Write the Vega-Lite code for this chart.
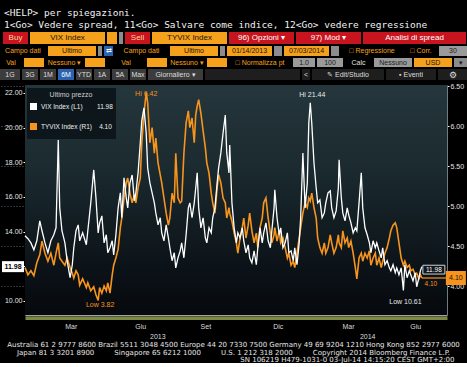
{
"$schema":"https://vega.github.io/schema/vega-lite/v6.json",
"background":"#000000",
"padding":{"top":8,"left":0,"right":0,"bottom":0},
"spacing":2,
"resolve":{"scale":{"color":"independent"},"legend":{"color":"independent"}},
"title":{"text":"\u00a0\u00a0<HELP> per spiegazioni.","subtitle":"1<Go> Vedere spread, 11<Go> Salvare come indice, 12<Go> vedere regressione","anchor":"start","frame":"bounds","font":"DejaVu Sans Mono","fontSize":9.5,"fontWeight":"normal","color":"#f2f2f2","subtitleFont":"DejaVu Sans Mono","subtitleFontSize":9.5,"subtitleColor":"#f2f2f2","subtitlePadding":2,"offset":3,"dx":4},
"config":{"view":{"stroke":null},"text":{"font":"Liberation Sans","fontSize":7,"color":"#ffffff"},"axis":{"labelFont":"Liberation Sans"},"legend":{"labelFont":"Liberation Sans","titleFont":"Liberation Sans"}},
"datasets":{"s":[
{"d":"2013-01-12","a":13.76,"b":4.23},{"d":"2013-01-16","a":13.59,"b":4.14},{"d":"2013-01-20","a":13.35,"b":4.19},{"d":"2013-01-24","a":12.95,"b":4.13},{"d":"2013-01-28","a":13.47,"b":4.29},{"d":"2013-02-01","a":14.62,"b":4.39},{"d":"2013-02-04","a":14.05,"b":4.56},{"d":"2013-02-08","a":13.35,"b":4.41},{"d":"2013-02-12","a":12.78,"b":4.31},{"d":"2013-02-16","a":13.47,"b":4.41},{"d":"2013-02-20","a":13.82,"b":4.26},{"d":"2013-02-23","a":14.22,"b":4.41},{"d":"2013-02-26","a":19.29,"b":4.54},{"d":"2013-02-28","a":15.37,"b":4.35},{"d":"2013-03-03","a":14.05,"b":4.31},{"d":"2013-03-07","a":13.35,"b":4.26},{"d":"2013-03-10","a":12.32,"b":4.35},{"d":"2013-03-14","a":11.34,"b":4.23},{"d":"2013-03-17","a":12.09,"b":4.16},{"d":"2013-03-19","a":13.07,"b":4.10},{"d":"2013-03-22","a":14.05,"b":4.19},{"d":"2013-03-25","a":14.39,"b":4.14},{"d":"2013-03-27","a":13.47,"b":4.01},{"d":"2013-03-31","a":13.93,"b":4.09},{"d":"2013-04-05","a":13.24,"b":3.98},{"d":"2013-04-07","a":14.05,"b":4.04},{"d":"2013-04-11","a":15.66,"b":3.94},{"d":"2013-04-15","a":17.56,"b":3.99},{"d":"2013-04-18","a":15.95,"b":3.89},{"d":"2013-04-21","a":13.93,"b":3.82},{"d":"2013-04-23","a":14.51,"b":3.98},{"d":"2013-04-26","a":14.91,"b":3.91},{"d":"2013-04-29","a":13.35,"b":4.00},{"d":"2013-05-02","a":13.82,"b":3.94},{"d":"2013-05-04","a":12.78,"b":4.04},{"d":"2013-05-07","a":13.07,"b":3.91},{"d":"2013-05-10","a":13.47,"b":4.14},{"d":"2013-05-12","a":12.66,"b":4.26},{"d":"2013-05-15","a":13.82,"b":4.35},{"d":"2013-05-18","a":15.37,"b":4.46},{"d":"2013-05-21","a":16.24,"b":4.73},{"d":"2013-05-23","a":14.80,"b":4.85},{"d":"2013-05-26","a":17.10,"b":5.10},{"d":"2013-05-29","a":15.95,"b":5.29},{"d":"2013-05-31","a":15.37,"b":5.35},{"d":"2013-06-03","a":16.81,"b":5.16},{"d":"2013-06-06","a":17.27,"b":5.04},{"d":"2013-06-09","a":15.78,"b":5.14},{"d":"2013-06-11","a":16.24,"b":5.04},{"d":"2013-06-14","a":17.39,"b":5.23},{"d":"2013-06-17","a":19.12,"b":5.35},{"d":"2013-06-19","a":20.39,"b":5.79},{"d":"2013-06-22","a":21.14,"b":6.16},{"d":"2013-06-25","a":19.69,"b":6.42},{"d":"2013-06-27","a":17.68,"b":6.29},{"d":"2013-06-30","a":16.81,"b":5.79},{"d":"2013-07-03","a":16.24,"b":5.98},{"d":"2013-07-06","a":15.66,"b":5.66},{"d":"2013-07-08","a":15.08,"b":5.85},{"d":"2013-07-11","a":14.39,"b":5.54},{"d":"2013-07-14","a":14.80,"b":5.39},{"d":"2013-07-16","a":13.93,"b":5.29},{"d":"2013-07-19","a":13.47,"b":5.10},{"d":"2013-07-22","a":14.39,"b":4.91},{"d":"2013-07-25","a":13.64,"b":4.76},{"d":"2013-07-27","a":13.07,"b":4.85},{"d":"2013-07-30","a":12.32,"b":5.16},{"d":"2013-08-02","a":12.78,"b":5.04},{"d":"2013-08-04","a":11.91,"b":5.66},{"d":"2013-08-07","a":12.49,"b":5.10},{"d":"2013-08-10","a":12.89,"b":5.04},{"d":"2013-08-12","a":13.35,"b":5.06},{"d":"2013-08-15","a":12.49,"b":5.66},{"d":"2013-08-18","a":13.82,"b":6.04},{"d":"2013-08-21","a":15.37,"b":6.19},{"d":"2013-08-23","a":15.66,"b":5.98},{"d":"2013-08-26","a":14.80,"b":6.10},{"d":"2013-08-29","a":15.66,"b":5.79},{"d":"2013-08-31","a":16.52,"b":6.14},{"d":"2013-09-02","a":17.39,"b":6.25},{"d":"2013-09-04","a":15.37,"b":6.33},{"d":"2013-09-07","a":14.22,"b":6.16},{"d":"2013-09-10","a":14.80,"b":5.94},{"d":"2013-09-13","a":13.64,"b":5.73},{"d":"2013-09-15","a":13.35,"b":5.54},{"d":"2013-09-18","a":14.22,"b":5.41},{"d":"2013-09-21","a":13.93,"b":5.16},{"d":"2013-09-23","a":14.80,"b":5.04},{"d":"2013-09-26","a":15.37,"b":4.91},{"d":"2013-09-29","a":16.81,"b":5.23},{"d":"2013-10-01","a":17.68,"b":5.39},{"d":"2013-10-04","a":18.54,"b":5.29},{"d":"2013-10-07","a":19.69,"b":5.10},{"d":"2013-10-10","a":20.73,"b":5.04},{"d":"2013-10-12","a":18.54,"b":4.85},{"d":"2013-10-15","a":17.39,"b":4.98},{"d":"2013-10-16","a":19.00,"b":4.91},{"d":"2013-10-19","a":15.66,"b":4.81},{"d":"2013-10-22","a":14.22,"b":4.66},{"d":"2013-10-25","a":13.35,"b":4.54},{"d":"2013-10-27","a":13.93,"b":4.41},{"d":"2013-10-30","a":13.64,"b":4.60},{"d":"2013-11-02","a":14.22,"b":4.73},{"d":"2013-11-04","a":13.47,"b":4.85},{"d":"2013-11-07","a":12.78,"b":4.60},{"d":"2013-11-10","a":13.24,"b":4.76},{"d":"2013-11-12","a":12.49,"b":4.91},{"d":"2013-11-15","a":12.20,"b":4.69},{"d":"2013-11-18","a":12.89,"b":4.54},{"d":"2013-11-21","a":12.09,"b":4.66},{"d":"2013-11-23","a":13.07,"b":4.48},{"d":"2013-11-26","a":14.22,"b":4.73},{"d":"2013-11-29","a":13.35,"b":4.85},{"d":"2013-12-01","a":13.93,"b":5.04},{"d":"2013-12-04","a":14.51,"b":5.10},{"d":"2013-12-07","a":13.47,"b":4.85},{"d":"2013-12-10","a":13.07,"b":4.66},{"d":"2013-12-12","a":14.05,"b":4.54},{"d":"2013-12-15","a":15.37,"b":4.64},{"d":"2013-12-16","a":16.41,"b":4.73},{"d":"2013-12-19","a":14.80,"b":4.56},{"d":"2013-12-22","a":13.82,"b":4.69},{"d":"2013-12-24","a":14.22,"b":4.54},{"d":"2013-12-27","a":13.07,"b":4.60},{"d":"2013-12-30","a":13.35,"b":4.48},{"d":"2014-01-02","a":13.93,"b":4.35},{"d":"2014-01-04","a":12.78,"b":4.41},{"d":"2014-01-07","a":12.89,"b":4.26},{"d":"2014-01-10","a":12.32,"b":4.31},{"d":"2014-01-12","a":13.07,"b":4.23},{"d":"2014-01-15","a":12.09,"b":4.41},{"d":"2014-01-18","a":13.35,"b":4.60},{"d":"2014-01-20","a":14.80,"b":4.73},{"d":"2014-01-23","a":18.54,"b":4.91},{"d":"2014-01-26","a":15.37,"b":5.04},{"d":"2014-01-29","a":16.81,"b":4.98},{"d":"2014-01-31","a":20.27,"b":5.10},{"d":"2014-02-02","a":21.44,"b":5.06},{"d":"2014-02-04","a":20.27,"b":5.16},{"d":"2014-02-07","a":17.97,"b":4.98},{"d":"2014-02-10","a":16.52,"b":4.85},{"d":"2014-02-12","a":15.66,"b":4.60},{"d":"2014-02-15","a":15.83,"b":4.48},{"d":"2014-02-18","a":14.80,"b":4.41},{"d":"2014-02-21","a":15.08,"b":4.54},{"d":"2014-02-23","a":15.66,"b":4.41},{"d":"2014-02-26","a":16.24,"b":4.48},{"d":"2014-03-01","a":16.35,"b":4.64},{"d":"2014-03-03","a":15.37,"b":4.54},{"d":"2014-03-06","a":14.80,"b":4.41},{"d":"2014-03-09","a":15.20,"b":4.48},{"d":"2014-03-12","a":16.52,"b":4.64},{"d":"2014-03-13","a":18.14,"b":4.54},{"d":"2014-03-16","a":15.95,"b":4.48},{"d":"2014-03-18","a":15.08,"b":4.69},{"d":"2014-03-21","a":14.62,"b":4.54},{"d":"2014-03-24","a":15.37,"b":4.60},{"d":"2014-03-26","a":14.97,"b":4.48},{"d":"2014-03-29","a":14.51,"b":4.56},{"d":"2014-04-01","a":13.93,"b":4.41},{"d":"2014-04-04","a":14.22,"b":4.23},{"d":"2014-04-06","a":14.05,"b":4.09},{"d":"2014-04-09","a":15.66,"b":4.35},{"d":"2014-04-12","a":17.39,"b":4.41},{"d":"2014-04-14","a":15.37,"b":4.31},{"d":"2014-04-17","a":14.22,"b":4.41},{"d":"2014-04-20","a":13.82,"b":4.35},{"d":"2014-04-23","a":13.35,"b":4.44},{"d":"2014-04-25","a":12.78,"b":4.26},{"d":"2014-04-28","a":13.47,"b":4.35},{"d":"2014-05-01","a":13.07,"b":4.41},{"d":"2014-05-03","a":13.35,"b":4.26},{"d":"2014-05-06","a":12.89,"b":4.35},{"d":"2014-05-09","a":12.49,"b":4.23},{"d":"2014-05-11","a":13.07,"b":4.31},{"d":"2014-05-14","a":12.09,"b":4.41},{"d":"2014-05-17","a":12.32,"b":4.48},{"d":"2014-05-20","a":11.91,"b":4.60},{"d":"2014-05-22","a":11.74,"b":4.69},{"d":"2014-05-25","a":12.09,"b":4.76},{"d":"2014-05-28","a":11.63,"b":4.79},{"d":"2014-05-30","a":11.91,"b":4.73},{"d":"2014-06-02","a":11.51,"b":4.54},{"d":"2014-06-05","a":11.91,"b":4.35},{"d":"2014-06-08","a":10.61,"b":4.26},{"d":"2014-06-10","a":12.09,"b":4.31},{"d":"2014-06-13","a":11.34,"b":4.23},{"d":"2014-06-16","a":11.74,"b":4.26},{"d":"2014-06-18","a":11.51,"b":4.19},{"d":"2014-06-21","a":11.16,"b":4.21},{"d":"2014-06-24","a":11.63,"b":4.14},{"d":"2014-06-26","a":10.82,"b":4.16},{"d":"2014-06-29","a":11.34,"b":4.09},{"d":"2014-07-01","a":11.74,"b":4.14},{"d":"2014-07-03","a":11.98,"b":4.10}
]},
"vconcat":[
{"spacing":2,"hconcat":[
{"width":1,"height":12,"view":{"fill":"#000000"},"data":{"values":[{"t":""}]},"mark":{"type":"text"},"encoding":{"text":{"field":"t"}}},
{"width":25,"height":12,"view":{"fill":"#c8141e"},"data":{"values":[{"t":"Buy"}]},"mark":{"type":"text","color":"#ffd59a","fontSize":8},"encoding":{"text":{"field":"t"}}},
{"width":75,"height":12,"view":{"fill":"#f5a11c"},"data":{"values":[{"t":"VIX Index"}]},"mark":{"type":"text","color":"#1a1208","fontSize":8},"encoding":{"text":{"field":"t"}}},
{"width":10,"height":12,"view":{"fill":"#f5a11c"},"data":{"values":[{"t":""}]},"mark":{"type":"text"},"encoding":{"text":{"field":"t"}}},
{"width":4,"height":12,"view":{"fill":"#8c8c8c"},"data":{"values":[{"t":""}]},"mark":{"type":"text"},"encoding":{"text":{"field":"t"}}},
{"width":25,"height":12,"view":{"fill":"#c8141e"},"data":{"values":[{"t":"Sell"}]},"mark":{"type":"text","color":"#ffd59a","fontSize":8},"encoding":{"text":{"field":"t"}}},
{"width":75,"height":12,"view":{"fill":"#f5a11c"},"data":{"values":[{"t":"TYVIX Index"}]},"mark":{"type":"text","color":"#1a1208","fontSize":8},"encoding":{"text":{"field":"t"}}},
{"width":65,"height":12,"view":{"fill":"#c8141e"},"data":{"values":[{"t":"96) Opzioni \u25BE"}]},"mark":{"type":"text","color":"#ffffff","fontSize":8},"encoding":{"text":{"field":"t"}}},
{"width":65,"height":12,"view":{"fill":"#c8141e"},"data":{"values":[{"t":"97) Mod \u25BE"}]},"mark":{"type":"text","color":"#ffffff","fontSize":8},"encoding":{"text":{"field":"t"}}},
{"width":103,"height":12,"view":{"fill":"#c8141e"},"data":{"values":[{"t":"Analisi di spread"}]},"mark":{"type":"text","color":"#ffffff","fontSize":8},"encoding":{"text":{"field":"t"}}}
]},
{"spacing":2,"hconcat":[
{"width":46,"height":10,"view":{"fill":"#000000"},"data":{"values":[{"t":"Campo dati"}]},"mark":{"type":"text","color":"#f5a11c"},"encoding":{"text":{"field":"t"}}},
{"width":48,"height":10,"view":{"fill":"#f5a11c"},"data":{"values":[{"t":"Ultimo"}]},"mark":{"type":"text","color":"#1a1208"},"encoding":{"text":{"field":"t"}}},
{"width":4,"height":10,"view":{"fill":"#8c8c8c"},"data":{"values":[{"t":""}]},"mark":{"type":"text"},"encoding":{"text":{"field":"t"}}},
{"width":9,"height":10,"view":{"fill":"#2a64b0"},"data":{"values":[{"t":"\u21C4"}]},"mark":{"type":"text","color":"#ffffff"},"encoding":{"text":{"field":"t"}}},
{"width":53,"height":10,"view":{"fill":"#000000"},"data":{"values":[{"t":"Campo dati"}]},"mark":{"type":"text","color":"#f5a11c"},"encoding":{"text":{"field":"t"}}},
{"width":48,"height":10,"view":{"fill":"#f5a11c"},"data":{"values":[{"t":"Ultimo"}]},"mark":{"type":"text","color":"#1a1208"},"encoding":{"text":{"field":"t"}}},
{"width":5,"height":10,"view":{"fill":"#8c8c8c"},"data":{"values":[{"t":""}]},"mark":{"type":"text"},"encoding":{"text":{"field":"t"}}},
{"width":45,"height":10,"view":{"fill":"#f5a11c"},"data":{"values":[{"t":"01/14/2013"}]},"mark":{"type":"text","color":"#1a1208"},"encoding":{"text":{"field":"t"}}},
{"width":8,"height":10,"view":{"fill":"#8c8c8c"},"data":{"values":[{"t":""}]},"mark":{"type":"text"},"encoding":{"text":{"field":"t"}}},
{"width":45,"height":10,"view":{"fill":"#f5a11c"},"data":{"values":[{"t":"07/03/2014"}]},"mark":{"type":"text","color":"#1a1208"},"encoding":{"text":{"field":"t"}}},
{"width":8,"height":10,"view":{"fill":"#8c8c8c"},"data":{"values":[{"t":""}]},"mark":{"type":"text"},"encoding":{"text":{"field":"t"}}},
{"width":62,"height":10,"view":{"fill":"#000000"},"data":{"values":[{"t":"\u25A1 Regressione"}]},"mark":{"type":"text","color":"#f5a11c"},"encoding":{"text":{"field":"t"}}},
{"width":32,"height":10,"view":{"fill":"#000000"},"data":{"values":[{"t":"\u25A1 Corr."}]},"mark":{"type":"text","color":"#f5a11c"},"encoding":{"text":{"field":"t"}}},
{"width":28,"height":10,"view":{"fill":"#9a9a9a"},"data":{"values":[{"t":"30"}]},"mark":{"type":"text","color":"#1a1a1a"},"encoding":{"text":{"field":"t"}}}
]},
{"spacing":2,"hconcat":[
{"width":22,"height":9,"view":{"fill":"#000000"},"data":{"values":[{"t":"Val"}]},"mark":{"type":"text","color":"#f5a11c"},"encoding":{"text":{"field":"t"}}},
{"width":20,"height":9,"view":{"fill":"#f5a11c"},"data":{"values":[{"t":""}]},"mark":{"type":"text"},"encoding":{"text":{"field":"t"}}},
{"width":37,"height":9,"view":{"fill":"#000000"},"data":{"values":[{"t":"Nessuno \u25BE"}]},"mark":{"type":"text","color":"#f5a11c"},"encoding":{"text":{"field":"t"}}},
{"width":20,"height":9,"view":{"fill":"#f5a11c"},"data":{"values":[{"t":""}]},"mark":{"type":"text"},"encoding":{"text":{"field":"t"}}},
{"width":38,"height":9,"view":{"fill":"#000000"},"data":{"values":[{"t":"Val"}]},"mark":{"type":"text","color":"#f5a11c"},"encoding":{"text":{"field":"t"}}},
{"width":20,"height":9,"view":{"fill":"#f5a11c"},"data":{"values":[{"t":""}]},"mark":{"type":"text"},"encoding":{"text":{"field":"t"}}},
{"width":36,"height":9,"view":{"fill":"#000000"},"data":{"values":[{"t":"Nessuno \u25BE"}]},"mark":{"type":"text","color":"#f5a11c"},"encoding":{"text":{"field":"t"}}},
{"width":20,"height":9,"view":{"fill":"#f5a11c"},"data":{"values":[{"t":""}]},"mark":{"type":"text"},"encoding":{"text":{"field":"t"}}},
{"width":62,"height":9,"view":{"fill":"#000000"},"data":{"values":[{"t":"\u25A1 Normalizza pt"}]},"mark":{"type":"text","color":"#f5a11c"},"encoding":{"text":{"field":"t"}}},
{"width":22,"height":9,"view":{"fill":"#9a9a9a"},"data":{"values":[{"t":"1.0"}]},"mark":{"type":"text","color":"#1a1a1a"},"encoding":{"text":{"field":"t"}}},
{"width":26,"height":9,"view":{"fill":"#9a9a9a"},"data":{"values":[{"t":"100"}]},"mark":{"type":"text","color":"#1a1a1a"},"encoding":{"text":{"field":"t"}}},
{"width":27,"height":9,"view":{"fill":"#000000"},"data":{"values":[{"t":"Calc"}]},"mark":{"type":"text","color":"#e0e0e0"},"encoding":{"text":{"field":"t"}}},
{"width":38,"height":9,"view":{"fill":"#9a9a9a"},"data":{"values":[{"t":"Nessuno"}]},"mark":{"type":"text","color":"#1a1a1a"},"encoding":{"text":{"field":"t"}}},
{"width":38,"height":9,"view":{"fill":"#f5a11c"},"data":{"values":[{"t":"USD"}]},"mark":{"type":"text","color":"#1a1208"},"encoding":{"text":{"field":"t"}}},
{"width":13,"height":9,"view":{"fill":"#8c8c8c"},"data":{"values":[{"t":"\u25BE"}]},"mark":{"type":"text","color":"#1a1a1a"},"encoding":{"text":{"field":"t"}}}
]},
{"spacing":2,"hconcat":[
{"width":20,"height":11,"view":{"fill":"#3c3c3c"},"data":{"values":[{"t":"1G"}]},"mark":{"type":"text","color":"#dddddd"},"encoding":{"text":{"field":"t"}}},
{"width":16,"height":11,"view":{"fill":"#3c3c3c"},"data":{"values":[{"t":"3G"}]},"mark":{"type":"text","color":"#dddddd"},"encoding":{"text":{"field":"t"}}},
{"width":16,"height":11,"view":{"fill":"#3c3c3c"},"data":{"values":[{"t":"1M"}]},"mark":{"type":"text","color":"#dddddd"},"encoding":{"text":{"field":"t"}}},
{"width":16,"height":11,"view":{"fill":"#2a64b0"},"data":{"values":[{"t":"6M"}]},"mark":{"type":"text","color":"#ffffff"},"encoding":{"text":{"field":"t"}}},
{"width":16,"height":11,"view":{"fill":"#3c3c3c"},"data":{"values":[{"t":"YTD"}]},"mark":{"type":"text","color":"#dddddd"},"encoding":{"text":{"field":"t"}}},
{"width":16,"height":11,"view":{"fill":"#3c3c3c"},"data":{"values":[{"t":"1A"}]},"mark":{"type":"text","color":"#dddddd"},"encoding":{"text":{"field":"t"}}},
{"width":16,"height":11,"view":{"fill":"#3c3c3c"},"data":{"values":[{"t":"5A"}]},"mark":{"type":"text","color":"#dddddd"},"encoding":{"text":{"field":"t"}}},
{"width":16,"height":11,"view":{"fill":"#3c3c3c"},"data":{"values":[{"t":"Max"}]},"mark":{"type":"text","color":"#dddddd"},"encoding":{"text":{"field":"t"}}},
{"width":55,"height":11,"view":{"fill":"#3c3c3c"},"data":{"values":[{"t":"Giornaliero \u25BE"}]},"mark":{"type":"text","color":"#dddddd"},"encoding":{"text":{"field":"t"}}},
{"width":95,"height":11,"view":{"fill":"#1e1e1e"},"data":{"values":[{"t":""}]},"mark":{"type":"text"},"encoding":{"text":{"field":"t"}}},
{"width":8,"height":11,"view":{"fill":"#1e1e1e"},"data":{"values":[{"t":"<"}]},"mark":{"type":"text","color":"#dddddd"},"encoding":{"text":{"field":"t"}}},
{"width":72,"height":11,"view":{"fill":"#1e1e1e"},"data":{"values":[{"t":"\u270E Edit/Studio"}]},"mark":{"type":"text","color":"#dddddd"},"encoding":{"text":{"field":"t"}}},
{"width":50,"height":11,"view":{"fill":"#1e1e1e"},"data":{"values":[{"t":"\u25AA Eventi"}]},"mark":{"type":"text","color":"#dddddd"},"encoding":{"text":{"field":"t"}}},
{"width":29,"height":11,"view":{"fill":"#1e1e1e"},"data":{"values":[{"t":"\u2699"}]},"mark":{"type":"text","color":"#dddddd","fontSize":9},"encoding":{"text":{"field":"t"}}}
]},
{"spacing":0,"resolve":{"scale":{"color":"independent"},"legend":{"color":"independent"}},"hconcat":[
{"width":447,"height":230,
 "view":{"stroke":null},
 "resolve":{"scale":{"y":"independent"},"axis":{"x":"independent","y":"independent"}},
 "layer":[
    {"data":{"values":[{"d":"2013-01-12","e":"2014-08-06"}]},"mark":{"type":"rect","fill":{"gradient":"linear","x1":0,"y1":0,"x2":0,"y2":1,"stops":[{"offset":0,"color":"#25363c"},{"offset":0.35,"color":"#1b2b30"},{"offset":0.6,"color":"#121d22"},{"offset":0.85,"color":"#0a1015"},{"offset":1,"color":"#06080d"}]}},
     "encoding":{
      "x":{"field":"d","type":"temporal","scale":{"domain":[{"year":2013,"month":1,"date":12},{"year":2014,"month":8,"date":6}],"range":[25,447]},"axis":null},
      "x2":{"field":"e"}}},
    {"data":{"name":"s"},"mark":{"type":"line","strokeWidth":1.6},
     "encoding":{
      "x":{"field":"d","type":"temporal","title":null,"scale":{"domain":[{"year":2013,"month":1,"date":12},{"year":2014,"month":8,"date":6}],"range":[25,447]},
           "axis":{"orient":"bottom","values":[{"year":2013,"month":4,"date":1},{"year":2013,"month":10,"date":1},{"year":2014,"month":4,"date":1}],"labels":false,"ticks":false,"tickSize":0,"grid":true,"gridColor":"#71838a","gridDash":[1,2],"gridWidth":0.8,"domainColor":"#7b8a3a","domainWidth":3,"offset":3}},
      "y":{"field":"b","type":"quantitative","title":null,"scale":{"domain":[3.6375,6.5125],"nice":false,"zero":false},
           "axis":{"orient":"right","values":[4,4.5,5,5.5,6,6.5],"format":".2f","labelFontSize":7,"labelColor":"#e6e6e6","tickColor":"#ffffff","tickSize":2,"domainColor":"#6f7d83","labelPadding":1,"grid":true,"gridColor":"#71838a","gridDash":[1,2],"gridWidth":0.8,"minExtent":20,"maxExtent":20}},
      "color":{"datum":"TYVIX Index (R1)\u00a0\u00a0\u00a0\u00a04.10","type":"nominal",
           "scale":{"domain":["VIX Index (L1)\u00a0\u00a0\u00a0\u00a0\u00a0\u00a0\u00a0\u00a011.98","TYVIX Index (R1)\u00a0\u00a0\u00a0\u00a04.10"],"range":["#ffffff","#f7941d"]},
           "legend":{"orient":"none","legendX":27,"legendY":3,"title":"Ultimo prezzo","titleFontSize":7,"titleColor":"#cfcfcf","titleFontWeight":"normal","titleAnchor":"middle","labelFontSize":6.5,"labelColor":"#f0f0f0","symbolType":"square","symbolSize":9,"symbolStrokeWidth":4,"fillColor":"#0d171b","padding":3,"rowPadding":1,"labelLimit":200}}
     }},
    {"data":{"name":"s"},"mark":{"type":"line","strokeWidth":1.3},
     "encoding":{
      "x":{"field":"d","type":"temporal","title":null,"scale":{"domain":[{"year":2013,"month":1,"date":12},{"year":2014,"month":8,"date":6}],"range":[25,447]},
           "axis":{"orient":"bottom","values":[{"year":2013,"month":3,"date":15},{"year":2013,"month":6,"date":17},{"year":2013,"month":9,"date":13},{"year":2013,"month":12,"date":20},{"year":2014,"month":3,"date":25},{"year":2014,"month":6,"date":24}],
                   "labelExpr":"['Gen','Feb','Mar','Apr','Mag','Giu','Lug','Ago','Set','Ott','Nov','Dic'][month(datum.value)]",
                   "domainColor":"#a3a3a3","domainWidth":2,"ticks":false,"tickSize":0,"labelPadding":7,"labelFontSize":7,"labelColor":"#dcdcdc","grid":false}},
      "y":{"field":"a","type":"quantitative","title":null,"scale":{"domain":[9.19,22.46],"nice":false,"zero":false},
           "axis":{"orient":"left","offset":-25,"values":[10,12,14,16,18,20,22],"format":".2f","labelFontSize":7,"labelColor":"#e6e6e6","tickColor":"#ffffff","tickSize":2,"domainColor":"#6f7d83","labelPadding":1,"grid":false}},
      "color":{"datum":"VIX Index (L1)\u00a0\u00a0\u00a0\u00a0\u00a0\u00a0\u00a0\u00a011.98","type":"nominal"}
     }},
    {"data":{"values":[{"d":"2014-02-02","v":21.44,"t":"Hi 21.44"}]},"mark":{"type":"text","color":"#e8e8e8","fontSize":7,"dy":-8,"dx":2},
     "encoding":{
      "x":{"field":"d","type":"temporal","title":null,"scale":{"domain":[{"year":2013,"month":1,"date":12},{"year":2014,"month":8,"date":6}],"range":[25,447]},
           "axis":{"orient":"bottom","values":[{"year":2013,"month":7,"date":10},{"year":2014,"month":4,"date":20}],"labelExpr":"'' + year(datum.value)","domain":false,"ticks":false,"tickSize":0,"labelPadding":17,"labelFontSize":7,"labelColor":"#dcdcdc","grid":false}},
      "y":{"field":"v","type":"quantitative","scale":{"domain":[9.19,22.46],"nice":false,"zero":false},"axis":null},
      "text":{"field":"t"}}},
    {"data":{"values":[{"d":"2014-06-08","v":10.61,"t":"Low 10.61"}]},"mark":{"type":"text","color":"#e8e8e8","fontSize":7,"dy":12,"dx":2},
     "encoding":{
      "x":{"field":"d","type":"temporal","scale":{"domain":[{"year":2013,"month":1,"date":12},{"year":2014,"month":8,"date":6}],"range":[25,447]},"axis":null},
      "y":{"field":"v","type":"quantitative","scale":{"domain":[9.19,22.46],"nice":false,"zero":false},"axis":null},
      "text":{"field":"t"}}},
    {"data":{"values":[{"d":"2013-01-12","v":11.98}]},"mark":{"type":"point","shape":"M-1,-0.5H1V0.5H-1Z","size":484,"filled":true,"color":"#ffffff","opacity":1,"strokeWidth":0,"xOffset":-12},
     "encoding":{
      "x":{"field":"d","type":"temporal","scale":{"domain":[{"year":2013,"month":1,"date":12},{"year":2014,"month":8,"date":6}],"range":[25,447]},"axis":null},
      "y":{"field":"v","type":"quantitative","scale":{"domain":[9.19,22.46],"nice":false,"zero":false},"axis":null}}},
    {"data":{"values":[{"d":"2013-01-12","v":11.98,"t":"11.98"}]},"mark":{"type":"text","color":"#000000","fontSize":7,"fontWeight":"bold","dx":-12},
     "encoding":{
      "x":{"field":"d","type":"temporal","scale":{"domain":[{"year":2013,"month":1,"date":12},{"year":2014,"month":8,"date":6}],"range":[25,447]},"axis":null},
      "y":{"field":"v","type":"quantitative","scale":{"domain":[9.19,22.46],"nice":false,"zero":false},"axis":null},
      "text":{"field":"t"}}},
    {"data":{"values":[{"d":"2014-07-03","v":11.98}]},"mark":{"type":"point","shape":"M-1,-0.4H1V0.4H-1Z","size":484,"filled":true,"color":"#10181c","stroke":"#d0d0d0","strokeWidth":1,"opacity":1,"xOffset":12,"yOffset":3},
     "encoding":{
      "x":{"field":"d","type":"temporal","scale":{"domain":[{"year":2013,"month":1,"date":12},{"year":2014,"month":8,"date":6}],"range":[25,447]},"axis":null},
      "y":{"field":"v","type":"quantitative","scale":{"domain":[9.19,22.46],"nice":false,"zero":false},"axis":null}}},
    {"data":{"values":[{"d":"2014-07-03","v":11.98,"t":"11.98"}]},"mark":{"type":"text","color":"#ffffff","fontSize":6.5,"dx":12,"dy":3},
     "encoding":{
      "x":{"field":"d","type":"temporal","scale":{"domain":[{"year":2013,"month":1,"date":12},{"year":2014,"month":8,"date":6}],"range":[25,447]},"axis":null},
      "y":{"field":"v","type":"quantitative","scale":{"domain":[9.19,22.46],"nice":false,"zero":false},"axis":null},
      "text":{"field":"t"}}},
    {"data":{"values":[{"d":"2013-06-25","v":6.42,"t":"Hi 6.42"}]},"mark":{"type":"text","color":"#f7941d","fontSize":7,"dy":2},
     "encoding":{
      "x":{"field":"d","type":"temporal","scale":{"domain":[{"year":2013,"month":1,"date":12},{"year":2014,"month":8,"date":6}],"range":[25,447]},"axis":null},
      "y":{"field":"v","type":"quantitative","scale":{"domain":[3.6375,6.5125],"nice":false,"zero":false},"axis":null},
      "text":{"field":"t"}}},
    {"data":{"values":[{"d":"2013-04-21","v":3.82,"t":"Low 3.82"}]},"mark":{"type":"text","color":"#f7941d","fontSize":7,"dy":5,"dx":2},
     "encoding":{
      "x":{"field":"d","type":"temporal","scale":{"domain":[{"year":2013,"month":1,"date":12},{"year":2014,"month":8,"date":6}],"range":[25,447]},"axis":null},
      "y":{"field":"v","type":"quantitative","scale":{"domain":[3.6375,6.5125],"nice":false,"zero":false},"axis":null},
      "text":{"field":"t"}}},
    {"data":{"values":[{"d":"2014-07-03","e":"2014-08-06","v":4.10}]},"mark":{"type":"rule","color":"#f7941d","strokeWidth":1.2},
     "encoding":{
      "x":{"field":"d","type":"temporal","scale":{"domain":[{"year":2013,"month":1,"date":12},{"year":2014,"month":8,"date":6}],"range":[25,447]},"axis":null},
      "x2":{"field":"e"},
      "y":{"field":"v","type":"quantitative","scale":{"domain":[3.6375,6.5125],"nice":false,"zero":false},"axis":null}}},
    {"data":{"values":[{"d":"2014-07-03","v":4.10}]},"mark":{"type":"point","shape":"M-1,-0.7H1V0.7H-1Z","size":400,"filled":true,"color":"#f7941d","opacity":1,"strokeWidth":0,"xOffset":34},
     "encoding":{
      "x":{"field":"d","type":"temporal","scale":{"domain":[{"year":2013,"month":1,"date":12},{"year":2014,"month":8,"date":6}],"range":[25,447]},"axis":null},
      "y":{"field":"v","type":"quantitative","scale":{"domain":[3.6375,6.5125],"nice":false,"zero":false},"axis":null}}},
    {"data":{"values":[{"d":"2014-07-03","v":4.10,"t":"4.10"}]},"mark":{"type":"text","color":"#1a1208","fontSize":7,"dx":34},
     "encoding":{
      "x":{"field":"d","type":"temporal","scale":{"domain":[{"year":2013,"month":1,"date":12},{"year":2014,"month":8,"date":6}],"range":[25,447]},"axis":null},
      "y":{"field":"v","type":"quantitative","scale":{"domain":[3.6375,6.5125],"nice":false,"zero":false},"axis":null},
      "text":{"field":"t"}}},
    {"data":{"values":[{"d":"2014-07-03","v":4.10,"t":"4.10"}]},"mark":{"type":"text","color":"#f7941d","fontSize":6.5,"dx":9,"dy":6},
     "encoding":{
      "x":{"field":"d","type":"temporal","scale":{"domain":[{"year":2013,"month":1,"date":12},{"year":2014,"month":8,"date":6}],"range":[25,447]},"axis":null},
      "y":{"field":"v","type":"quantitative","scale":{"domain":[3.6375,6.5125],"nice":false,"zero":false},"axis":null},
      "text":{"field":"t"}}}
 ]}
]},
{"width":467,"height":22,
 "data":{"values":[
  {"n":1,"t":"Australia 61 2 9777 8600 Brazil 5511 3048 4500 Europe 44 20 7330 7500 Germany 49 69 9204 1210 Hong Kong 852 2977 6000"},
  {"n":2,"t":"Japan 81 3 3201 8900\u00a0\u00a0\u00a0\u00a0\u00a0\u00a0\u00a0\u00a0\u00a0Singapore 65 6212 1000\u00a0\u00a0\u00a0\u00a0\u00a0\u00a0\u00a0\u00a0\u00a0U.S. 1 212 318 2000\u00a0\u00a0\u00a0\u00a0\u00a0\u00a0\u00a0\u00a0\u00a0Copyright 2014 Bloomberg Finance L.P."},
  {"n":3,"t":"SN 106219 H479-1031-0 03-Jul-14 14:15:20 CEST GMT+2:00"}]},
 "layer":[
  {"transform":[{"filter":"datum.n < 3"}],"mark":{"type":"text","color":"#e6e6e6","fontSize":7,"font":"DejaVu Sans","dy":0.5},
   "encoding":{"y":{"field":"n","type":"ordinal","axis":null,"scale":{"domain":[1,2,3]}},"text":{"field":"t"}}},
  {"transform":[{"filter":"datum.n == 3"}],"mark":{"type":"text","color":"#e6e6e6","fontSize":7,"font":"DejaVu Sans","align":"right","dx":221,"dy":0.5},
   "encoding":{"y":{"field":"n","type":"ordinal","axis":null,"scale":{"domain":[1,2,3]}},"text":{"field":"t"}}}
 ]}
]
}
